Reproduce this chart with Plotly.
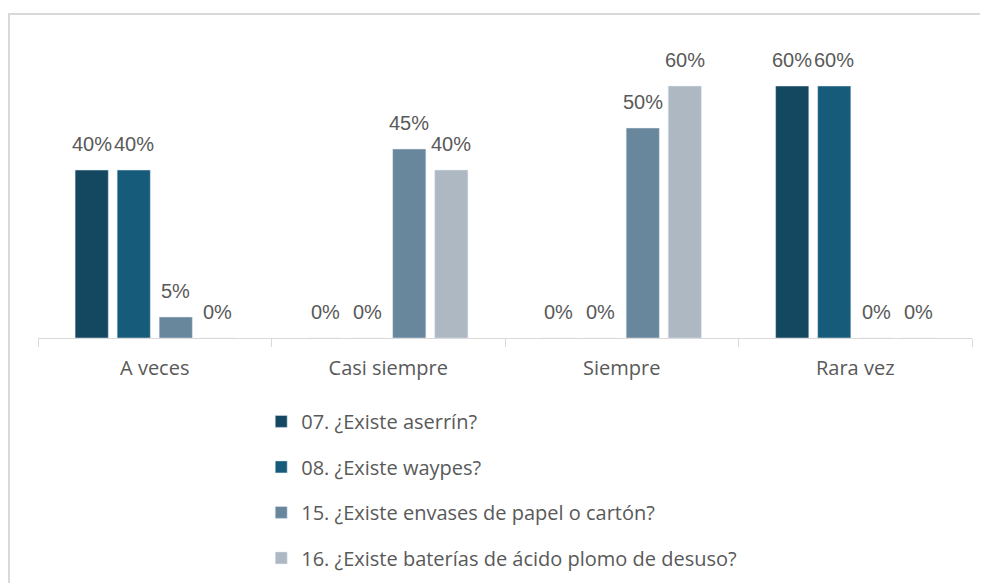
import plotly.graph_objs as go

# data
categorias = ["A veces", "Casi siempre", "Siempre", "Rara vez"]
series = [
    "07. ¿Existe aserrín?",
    "08. ¿Existe waypes?",
    "15. ¿Existe envases de papel o cartón?",
    "16. ¿Existe baterías de ácido plomo de desuso?",
]
v07 = [40, 0, 0, 60]
v08 = [40, 0, 0, 60]
v15 = [5, 45, 50, 0]
v16 = [0, 40, 60, 0]
colores = ["#144861", "#165B7A", "#68869C", "#ADB8C3"]

W, H = 980, 575
ML, MR, MT, MB = 30, 16, 14, 245
BARGAP = 0.28

fig = go.Figure()
valores = [v07, v08, v15, v16]
for nombre, vals, col in zip(series, valores, colores):
    fig.add_trace(go.Bar(x=categorias, y=vals, name=nombre, marker_color=col,
                         legendgroup=nombre))

# data labels, shifted over each bar of the group
ancho_slot = (W - ML - MR) / len(categorias) * (1 - BARGAP) / len(series)
for i, vals in enumerate(valores):
    for cat, v in zip(categorias, vals):
        fig.add_annotation(x=cat, y=v, text=f"{v}%", showarrow=False,
                           yanchor="bottom", yshift=13,
                           xshift=(i - (len(series) - 1) / 2) * ancho_slot,
                           font=dict(size=20, color="#595959", family="Liberation Sans"))

fig.update_layout(
    barmode="group", bargap=BARGAP, bargroupgap=0.21,
    width=W, height=H,
    margin=dict(l=ML, r=MR, t=MT, b=MB, autoexpand=False),
    plot_bgcolor="white", paper_bgcolor="white",
    font=dict(family="Open Sans", color="#595959", size=20),
    legend=dict(orientation="v", x=0.239, xanchor="left",
                yref="container", y=0.315, yanchor="top",
                tracegroupgap=16.5, font=dict(size=20, color="#595959")),
    showlegend=True,
)
fig.update_xaxes(showline=True, linecolor="#D9D9D9", linewidth=1,
                 ticks="outside", tickson="boundaries", ticklen=8,
                 tickcolor="#D9D9D9", ticklabelstandoff=12,
                 tickfont=dict(size=20, color="#595959"))
fig.update_yaxes(range=[0, 75.24], visible=False, showgrid=False)

# outer chart border
fig.add_shape(type="rect", xref="paper", yref="paper",
              x0=-0.031, x1=1.06, y0=-0.9, y1=1.0253,
              line=dict(color="#D9D9D9", width=2), fillcolor="rgba(0,0,0,0)")

fig.write_html("out.html")
